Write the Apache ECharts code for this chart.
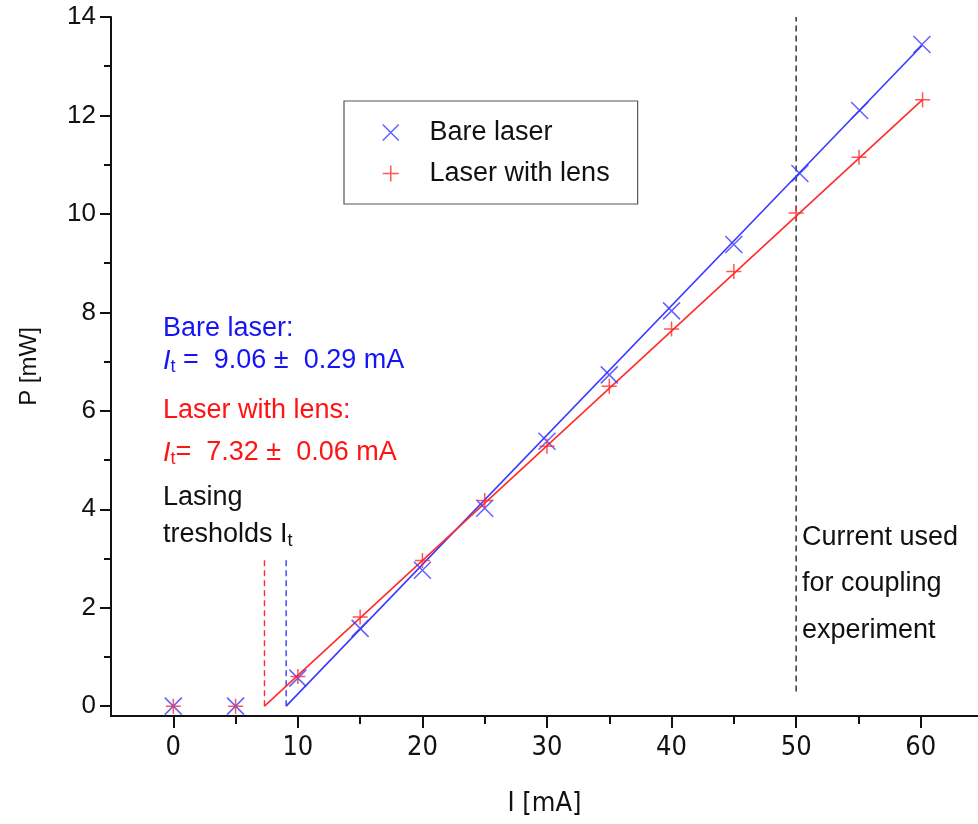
<!DOCTYPE html>
<html>
<head>
<meta charset="utf-8">
<script src="https://cdn.jsdelivr.net/npm/echarts@6/dist/echarts.min.js"></script>
<style>html,body{margin:0;padding:0;background:#fff;overflow:hidden}#c{width:978px;height:824px}</style>
</head>
<body>
<div id="c"></div>
<script>
// ---- data ----
var bareI = [0, 5, 10, 15, 20, 25, 30, 35, 40, 45, 50.3, 55.1, 60.1];
var bareP = [0, 0, 0.57, 1.58, 2.76, 4.02, 5.38, 6.73, 8.03, 9.38, 10.82, 12.1, 13.44];
var lensI = [0, 5, 10, 15, 20, 25, 30, 35, 40, 45, 50, 55.05, 60.15];
var lensP = [0, 0, 0.6, 1.81, 2.96, 4.18, 5.28, 6.5, 7.66, 8.83, 10.02, 11.15, 12.32];
var bareFitI = [9.06, 60.1];
var bareFitP = [0, 13.42];
var lensFitI = [7.32, 60.15];
var lensFitP = [0, 12.32];
var thresholdBare = 9.06;
var thresholdLens = 7.32;
var thresholdMarkTop = 3.0;
var couplingI = 50;
var couplingRange = [0.3, 14];
var xMajorTicks = [0, 10, 20, 30, 40, 50, 60];
var xMinorTicks = [5, 15, 25, 35, 45, 55];
var yMajorTicks = [0, 2, 4, 6, 8, 10, 12, 14];
var yMinorTicks = [1, 3, 5, 7, 9, 11, 13];

function pairs(a, b) { return a.map(function (v, i) { return [v, b[i]]; }); }

var BLUE = '#3a3aff', RED = '#ff2b2b', TBLUE = '#1414f5', TRED = '#ff1414';
var SANS = "'Liberation Sans', Arial, Helvetica, sans-serif";
var NARROW = "'Liberation Sans Narrow', 'Arial Narrow', 'DejaVu Sans Condensed', sans-serif";
var X_ICON = 'path://M0,0L1,1M1,0L0,1';
var P_ICON = 'path://M0.5,0L0.5,1M0,0.5L1,0.5';
var X_LEG = 'path://M0,0L1,1M1,0L0,1M2.6,0.5';
var P_LEG = 'path://M0.5,0L0.5,1M0,0.5L1,0.5M2.6,0.5';
var FS = 27;

var chart = echarts.init(document.getElementById('c'), null, {renderer: 'canvas'});

var axisLineStyle = {color: '#111', width: 2};

function subText(x, y, main1, sub, main2, color, italic) {
  var rich = {
    i: {fontFamily: SANS, fontSize: FS, fontStyle: italic ? 'italic' : 'normal', fill: color},
    s: {fontFamily: SANS, fontSize: 18, fill: color, padding: [12, 0, 0, 0]},
    n: {fontFamily: SANS, fontSize: FS, fill: color}
  };
  var t = '{i|' + main1 + '}{s|' + sub + '}' + (main2 ? '{n|' + main2 + '}' : '');
  return {type: 'text', x: x, y: y, style: {text: t, rich: rich, verticalAlign: 'middle'}};
}
function plainText(x, y, t, color) {
  return {type: 'text', x: x, y: y, style: {text: t, fontFamily: SANS, fontSize: FS, fill: color, verticalAlign: 'middle'}};
}

var option = {
  animation: false,
  backgroundColor: '#fff',
  grid: {left: 111, top: 17, right: 0, bottom: 108, containLabel: false, outerBoundsMode: 'none'},
  xAxis: [{
    type: 'value', min: -5, max: 64.6,
    name: 'I [mA]', nameLocation: 'middle', nameGap: 74,
    nameTextStyle: {fontFamily: NARROW, fontSize: 27, color: '#111'},
    axisLine: {show: true, onZero: false, lineStyle: axisLineStyle},
    axisTick: {show: true, length: 12, lineStyle: {color: '#111', width: 2}, customValues: xMajorTicks},
    axisLabel: {show: true, margin: 18, fontFamily: NARROW, fontSize: 27, color: '#111', customValues: xMajorTicks},
    splitLine: {show: false}
  }, {
    type: 'value', min: -5, max: 64.6, position: 'bottom',
    axisLine: {show: false, onZero: false},
    axisTick: {show: true, length: 8, lineStyle: {color: '#111', width: 2}, customValues: xMinorTicks},
    axisLabel: {show: false, customValues: xMinorTicks},
    splitLine: {show: false}
  }],
  yAxis: [{
    type: 'value', min: -0.2, max: 14,
    name: 'P [mW]', nameLocation: 'middle', nameGap: 70, nameRotate: 90,
    nameTextStyle: {fontFamily: SANS, fontSize: 24, color: '#111'},
    axisLine: {show: true, onZero: false, lineStyle: axisLineStyle},
    axisTick: {show: true, length: 11, lineStyle: {color: '#111', width: 2}, customValues: yMajorTicks},
    axisLabel: {show: true, margin: 15, fontFamily: SANS, fontSize: 26, color: '#111', customValues: yMajorTicks},
    splitLine: {show: false}
  }, {
    type: 'value', min: -0.2, max: 14, position: 'left',
    axisLine: {show: false, onZero: false},
    axisTick: {show: true, length: 7, lineStyle: {color: '#111', width: 2}, customValues: yMinorTicks},
    axisLabel: {show: false, customValues: yMinorTicks},
    splitLine: {show: false}
  }],
  legend: {
    show: true, orient: 'vertical', left: 344, top: 101,
    padding: [18, 28, 17, 38], itemGap: 14, itemWidth: 42, itemHeight: 16,
    borderColor: '#555', borderWidth: 1.2, backgroundColor: '#fff',
    textStyle: {fontFamily: SANS, fontSize: FS, color: '#111'},
    data: [
      {name: 'Bare laser', icon: X_LEG, itemStyle: {color: 'transparent', borderColor: BLUE, borderWidth: 1.5}},
      {name: 'Laser with lens', icon: P_LEG, itemStyle: {color: 'transparent', borderColor: RED, borderWidth: 1.5}}
    ]
  },
  series: [
    {
      name: 'Bare fit', type: 'line', data: pairs(bareFitI, bareFitP), showSymbol: false, symbol: 'none',
      lineStyle: {color: BLUE, width: 1.6}, z: 2
    },
    {
      name: 'Lens fit', type: 'line', data: pairs(lensFitI, lensFitP), showSymbol: false, symbol: 'none',
      lineStyle: {color: RED, width: 1.6}, z: 2
    },
    {
      name: 'thrBare', type: 'line', data: [[thresholdBare, 0], [thresholdBare, thresholdMarkTop]], symbol: 'none',
      lineStyle: {color: BLUE, width: 1.4, type: [6, 4]}, z: 1
    },
    {
      name: 'thrLens', type: 'line', data: [[thresholdLens, 0], [thresholdLens, thresholdMarkTop]], symbol: 'none',
      lineStyle: {color: RED, width: 1.4, type: [6, 4]}, z: 1
    },
    {
      name: 'coupling', type: 'line', data: [[couplingI, couplingRange[0]], [couplingI, couplingRange[1]]], symbol: 'none',
      lineStyle: {color: '#333', width: 1.5, type: [6, 4]}, z: 1
    },
    {
      name: 'Bare laser', type: 'scatter', data: pairs(bareI, bareP), symbol: X_ICON, symbolSize: 17,
      itemStyle: {color: 'transparent', borderColor: BLUE, borderWidth: 1.5}, z: 4
    },
    {
      name: 'Laser with lens', type: 'scatter', data: pairs(lensI, lensP), symbol: P_ICON, symbolSize: 15,
      itemStyle: {color: 'transparent', borderColor: RED, borderWidth: 1.5}, z: 5
    }
  ],
  graphic: [
    plainText(163, 329, 'Bare laser:', TBLUE),
    subText(163, 361, 'I', 't', ' =  9.06 ±  0.29 mA', TBLUE, true),
    plainText(163, 411, 'Laser with lens:', TRED),
    subText(163, 453, 'I', 't', '=  7.32 ±  0.06 mA', TRED, true),
    plainText(163, 498, 'Lasing', '#111'),
    subText(163, 535, 'tresholds I', 't', '', '#111', false),
    plainText(802, 538, 'Current used', '#111'),
    plainText(802, 584, 'for coupling', '#111'),
    plainText(802, 631, 'experiment', '#111')
  ]
};
chart.setOption(option);
</script>
</body>
</html>
